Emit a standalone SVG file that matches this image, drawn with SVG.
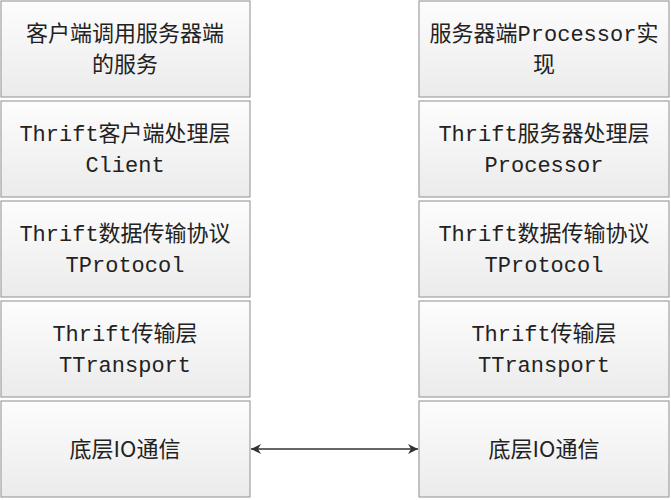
<svg xmlns="http://www.w3.org/2000/svg" width="671" height="500" viewBox="0 0 671 500">
<defs>
<linearGradient id="g" x1="0" y1="0" x2="0" y2="1"><stop offset="0" stop-color="#fdfdfd"/><stop offset="1" stop-color="#ebebeb"/></linearGradient>
<marker id="a" viewBox="0 0 10 10" refX="10" refY="5" markerWidth="10" markerHeight="10" orient="auto-start-reverse" markerUnits="userSpaceOnUse"><path d="M0,0 L10,5 L0,10 L3,5 z" fill="#333"/></marker>
<style>
rect{fill:url(#g);stroke:#a0a0a0;stroke-width:1.2}
text{font-family:"Liberation Mono","Noto Sans CJK SC",monospace;font-size:22px;fill:#222;text-anchor:middle}
.s{font-family:"Noto Sans CJK SC",sans-serif;font-size:22px}
</style>
</defs>
<rect x="0" y="0" width="671" height="500" style="fill:#fff;stroke:none"/>
<g id="l1"><rect x="1" y="1" width="249" height="96"/><text x="125" y="41">客户端调用服务器端</text><text x="125" y="72">的服务</text></g>
<g id="l2"><rect x="1" y="101" width="249" height="96"/><text x="125" y="141">Thrift客户端处理层</text><text x="125" y="172">Client</text></g>
<g id="l3"><rect x="1" y="201" width="249" height="96"/><text x="125" y="241">Thrift数据传输协议</text><text x="125" y="272">TProtocol</text></g>
<g id="l4"><rect x="1" y="301" width="249" height="96"/><text x="125" y="341">Thrift传输层</text><text x="125" y="372">TTransport</text></g>
<g id="l5"><rect x="1" y="401" width="249" height="96"/><text class="s" x="125" y="457">底层IO通信</text></g>
<g id="r1"><rect x="419" y="1" width="250" height="96"/><text x="544" y="41">服务器端Processor实</text><text x="544" y="72">现</text></g>
<g id="r2"><rect x="419" y="101" width="250" height="96"/><text x="544" y="141">Thrift服务器处理层</text><text x="544" y="172">Processor</text></g>
<g id="r3"><rect x="419" y="201" width="250" height="96"/><text x="544" y="241">Thrift数据传输协议</text><text x="544" y="272">TProtocol</text></g>
<g id="r4"><rect x="419" y="301" width="250" height="96"/><text x="544" y="341">Thrift传输层</text><text x="544" y="372">TTransport</text></g>
<g id="r5"><rect x="419" y="401" width="250" height="96"/><text class="s" x="544" y="457">底层IO通信</text></g>
<g id="connectors"><line x1="251" y1="449" x2="418" y2="449" stroke="#333" stroke-width="1.5" marker-start="url(#a)" marker-end="url(#a)"/></g>
</svg>
